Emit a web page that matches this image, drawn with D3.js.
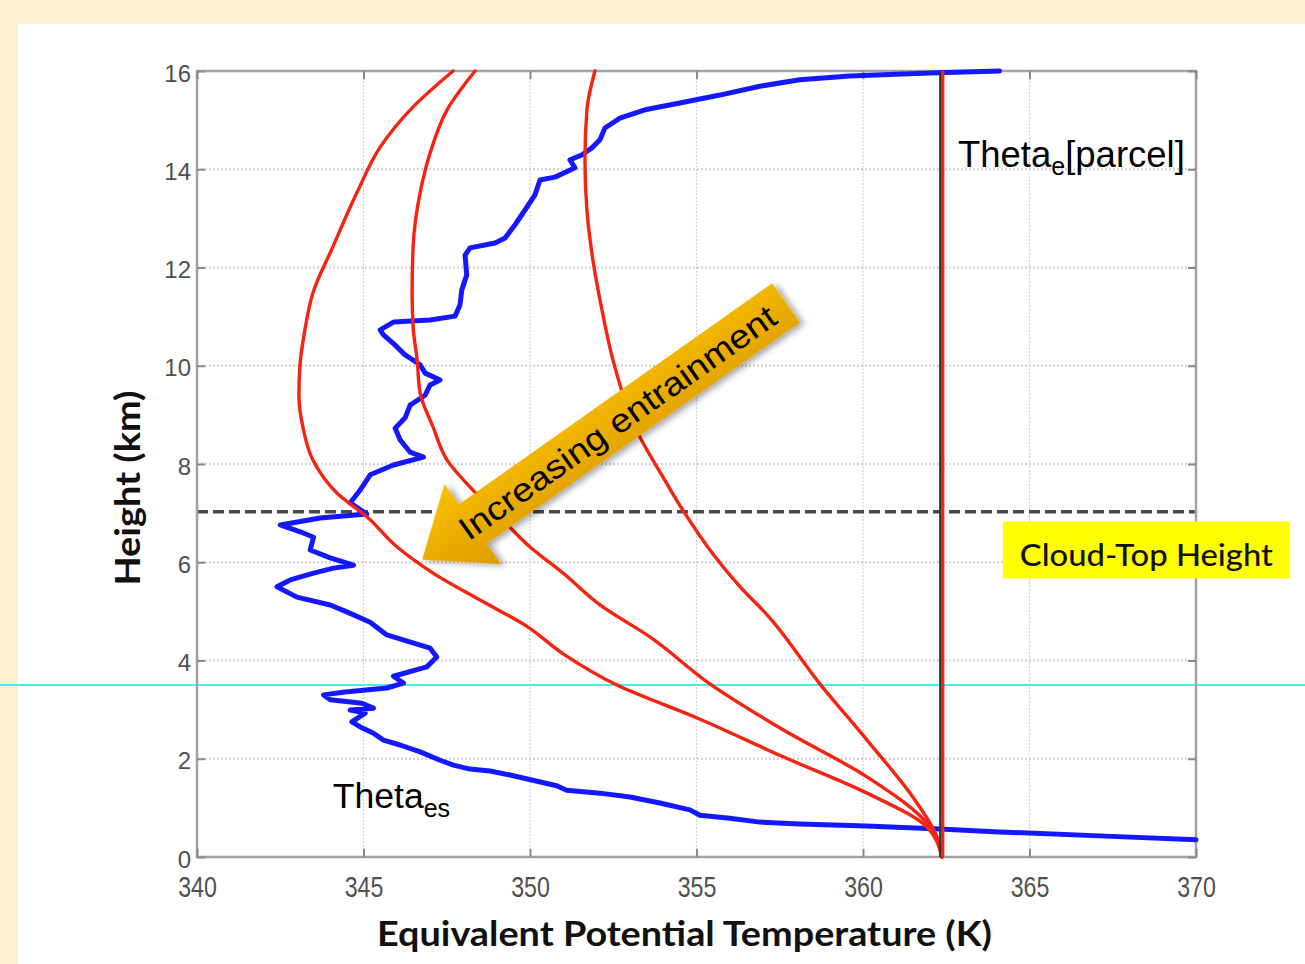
<!DOCTYPE html>
<html>
<head>
<meta charset="utf-8">
<script src="https://cdn.jsdelivr.net/npm/d3@7"></script>
<style>
  html, body { margin: 0; padding: 0; background: #fdf0d5; }
  svg { display: block; }
</style>
</head>
<body>
<script>
// Axis ticks
const tempTicks = [340, 345, 350, 355, 360, 365, 370];
const heightTicks = [0, 2, 4, 6, 8, 10, 12, 14, 16];

// Saturated equivalent potential temperature profile: [theta (K), height (km)]
const thetaEs = [
  [370.0,0.35],[367.1,0.43],[364.1,0.51],[362.3,0.57],[360.1,0.63],[358.1,0.67],[356.9,0.71],[356.0,0.79],
  [355.1,0.85],[354.8,0.96],[353.9,1.10],[353.0,1.22],[352.1,1.30],[351.1,1.36],[350.8,1.45],[349.4,1.67],
  [348.8,1.75],[348.2,1.79],[347.7,1.87],[347.3,1.97],[346.7,2.14],[346.1,2.28],[345.6,2.38],[345.3,2.52],
  [344.95,2.63],[344.65,2.75],[345.05,2.93],[344.6,2.99],[345.3,3.03],[344.95,3.13],[344.0,3.20],[343.8,3.30],
  [344.45,3.36],[345.7,3.44],[346.2,3.54],[345.9,3.68],[346.9,3.87],[347.2,4.07],[347.0,4.25],[345.7,4.52],
  [345.2,4.78],[344.5,4.99],[344.0,5.13],[343.0,5.29],[342.4,5.50],[342.8,5.64],[343.5,5.78],[344.1,5.88],
  [344.7,5.94],[344.0,6.09],[343.4,6.25],[343.5,6.51],[343.1,6.62],[342.5,6.76],[343.7,6.90],[345.1,6.98],
  [344.6,7.21],[344.9,7.47],[345.2,7.78],[345.9,7.98],[346.8,8.14],[346.4,8.24],[346.1,8.49],[345.95,8.73],
  [346.25,8.94],[346.4,9.20],[346.85,9.40],[347.0,9.61],[347.3,9.71],[346.85,9.85],[346.7,10.02],[346.25,10.22],
  [345.95,10.42],[345.6,10.63],[345.5,10.73],[345.9,10.89],[347.0,10.93],[347.75,11.01],[347.9,11.24],[347.95,11.54],
  [348.1,11.85],[348.05,12.25],[348.2,12.40],[348.95,12.50],[349.25,12.60],[349.55,12.87],[349.85,13.17],[350.15,13.48],
  [350.3,13.78],[350.75,13.84],[351.35,14.03],[351.2,14.19],[351.55,14.29],[351.85,14.43],[352.1,14.60],[352.25,14.84],
  [352.7,15.04],[353.45,15.21],[354.5,15.35],[355.7,15.51],[356.9,15.69],[358.1,15.82],[359.6,15.90],[362.0,15.96],
  [364.1,16.0]
];

// Parcel theta-e with no entrainment
const parcelTheta = 362.37;
const parcelUndilute = [[parcelTheta, 0], [parcelTheta, 16]];

// Entraining parcels: weak, moderate, strong mixing
const parcelWeakMix = [
  [362.37,0],[362.22,0.41],[361.62,1.10],[360.12,2.38],[358.71,3.52],[357.12,4.93],[356.31,5.50],[355.47,6.19],
  [354.59,7.06],[353.99,7.74],[353.30,8.55],[352.49,10.12],[352.16,11.14],[351.89,12.15],[351.71,13.17],
  [351.65,14.19],[351.71,15.21],[351.95,16.0]
];
const parcelModerateMix = [
  [362.37,0],[362.01,0.61],[360.12,1.63],[357.60,2.59],[355.41,3.52],[353.60,4.48],[352.10,5.13],[350.99,5.78],
  [350.00,6.31],[349.10,6.92],[348.20,7.53],[347.51,8.08],[347.09,8.75],[346.70,9.45],[346.61,10.12],
  [346.49,10.79],[346.46,11.48],[346.49,12.42],[346.70,13.52],[347.00,14.33],[347.51,15.21],[348.35,16.0]
];
const parcelStrongMix = [
  [362.37,0],[361.92,0.61],[360.12,1.30],[357.60,2.04],[355.02,2.83],[352.61,3.50],[351.05,4.11],[349.85,4.72],
  [348.50,5.23],[347.09,5.78],[346.01,6.31],[345.11,6.92],[344.20,7.41],[343.48,8.08],[343.18,8.75],
  [343.06,9.40],[343.09,9.99],[343.24,10.73],[343.48,11.48],[344.08,12.42],[344.80,13.52],[345.50,14.45],
  [346.49,15.27],[347.69,16.0]
];

// Reference levels (km)
const cloudTopHeight = 7.03;
const referenceLevel = 3.5;

// Annotation arrow: head and tail in data units [theta, height]
const arrowHead = [346.76, 6.05];
const arrowTail = [357.69, 11.28];

const W = 1305, H = 964;
const plot = { left: 197, right: 1196, top: 71, bottom: 857 };

const svg = d3.select("body").append("svg").attr("width", W).attr("height", H);

const defs = svg.append("defs");
const grad = defs.append("linearGradient").attr("id", "arrowFill")
  .attr("x1", 0).attr("y1", 0).attr("x2", 0).attr("y2", 1);
grad.append("stop").attr("offset", "0%").attr("stop-color", "#f9c000");
grad.append("stop").attr("offset", "100%").attr("stop-color", "#dd9a00");
const shadow = defs.append("filter").attr("id", "arrowShadow")
  .attr("x", "-20%").attr("y", "-20%").attr("width", "140%").attr("height", "140%");
shadow.append("feDropShadow").attr("dx", 3).attr("dy", 4).attr("stdDeviation", 3)
  .attr("flood-color", "#000").attr("flood-opacity", 0.35);

// Page background and white panel
svg.append("rect").attr("width", W).attr("height", H).attr("fill", "#fdf0d5");
svg.append("rect").attr("x", 18).attr("y", 24).attr("width", W - 18).attr("height", H - 24).attr("fill", "#ffffff");

const x = d3.scaleLinear().domain([340, 370]).range([plot.left, plot.right]);
const y = d3.scaleLinear().domain([0, 16]).range([plot.bottom, plot.top]);

// Grid
const grid = svg.append("g");
grid.selectAll(".vgrid").data(tempTicks.slice(1, -1)).join("line")
  .attr("x1", d => x(d)).attr("x2", d => x(d))
  .attr("y1", plot.top).attr("y2", plot.bottom)
  .attr("stroke", "#cfcfcf").attr("stroke-width", 1.2).attr("stroke-dasharray", "2,1.5");
grid.selectAll(".hgrid").data(heightTicks.slice(1, -1)).join("line")
  .attr("x1", plot.left).attr("x2", plot.right)
  .attr("y1", d => y(d)).attr("y2", d => y(d))
  .attr("stroke", "#d6d6d6").attr("stroke-width", 2.5).attr("stroke-dasharray", "2,2");

// Reference level across the page
svg.append("line")
  .attr("x1", 0).attr("x2", W)
  .attr("y1", y(referenceLevel)).attr("y2", y(referenceLevel))
  .attr("stroke", "#3ff0f4").attr("stroke-width", 2);

// Cloud-top height
svg.append("line")
  .attr("x1", plot.left).attr("x2", plot.right)
  .attr("y1", y(cloudTopHeight)).attr("y2", y(cloudTopHeight))
  .attr("stroke", "#4a4a4a").attr("stroke-width", 3.5).attr("stroke-dasharray", "11,5");

// Frame
svg.append("rect")
  .attr("x", plot.left).attr("y", plot.top)
  .attr("width", plot.right - plot.left).attr("height", plot.bottom - plot.top)
  .attr("fill", "none").attr("stroke", "#a2a2a2").attr("stroke-width", 2.5);

// Axes
const xAxis = svg.append("g").attr("transform", `translate(0,${plot.bottom})`)
  .call(d3.axisBottom(x).tickValues(tempTicks).tickFormat(d3.format("d")).tickSizeInner(-8).tickSizeOuter(0).tickPadding(19));
const xAxisTop = svg.append("g").attr("transform", `translate(0,${plot.top})`)
  .call(d3.axisTop(x).tickValues(tempTicks).tickFormat("").tickSizeInner(-8).tickSizeOuter(0));
const yAxis = svg.append("g").attr("transform", `translate(${plot.left},0)`)
  .call(d3.axisLeft(y).tickValues(heightTicks).tickFormat(d3.format("d")).tickSizeInner(-8).tickSizeOuter(0).tickPadding(6));
const yAxisRight = svg.append("g").attr("transform", `translate(${plot.right},0)`)
  .call(d3.axisRight(y).tickValues(heightTicks).tickFormat("").tickSizeInner(-8).tickSizeOuter(0));

[xAxis, xAxisTop, yAxis, yAxisRight].forEach(g => {
  g.select(".domain").remove();
  g.selectAll(".tick line").attr("stroke", "#8a8a8a").attr("stroke-width", 2);
});
// Narrow tick numerals along the temperature axis
xAxis.selectAll(".tick text")
  .attr("font-family", "'Liberation Sans', Arial, sans-serif")
  .attr("font-size", 29).attr("fill", "#505050")
  .attr("transform", "scale(0.8,1)");
yAxis.selectAll(".tick text")
  .attr("font-family", "'Liberation Sans', Arial, sans-serif")
  .attr("font-size", 24).attr("fill", "#505050").attr("dy", "0.42em");

// Axis titles
svg.append("text")
  .attr("x", (plot.left + plot.right) / 2 - 12).attr("y", 946)
  .attr("text-anchor", "middle")
  .attr("font-family", "Lato, 'Open Sans', sans-serif").attr("font-weight", 700)
  .attr("font-size", 34).attr("fill", "#111")
  .attr("textLength", 615).attr("lengthAdjust", "spacingAndGlyphs")
  .text("Equivalent Potential Temperature (K)");
svg.append("text")
  .attr("transform", `translate(140,${(plot.top + plot.bottom) / 2 + 24}) rotate(-90)`)
  .attr("text-anchor", "middle")
  .attr("font-family", "Lato, 'Open Sans', sans-serif").attr("font-weight", 700)
  .attr("font-size", 34).attr("fill", "#111")
  .attr("textLength", 195).attr("lengthAdjust", "spacingAndGlyphs")
  .text("Height (km)");

// Curves
const line = d3.line().x(d => x(d[0])).y(d => y(d[1]));
const smooth = d3.line().x(d => x(d[0])).y(d => y(d[1])).curve(d3.curveMonotoneY);
const curves = svg.append("g").attr("fill", "none").attr("stroke-linejoin", "round").attr("stroke-linecap", "round");

curves.append("path").datum(thetaEs).attr("d", line)
  .attr("stroke", "#1418ff").attr("stroke-width", 5);

[parcelWeakMix, parcelModerateMix, parcelStrongMix].forEach(c => {
  curves.append("path").datum(c).attr("d", smooth)
    .attr("stroke", "#f5230f").attr("stroke-width", 3.4);
});
curves.append("path").datum(parcelUndilute).attr("d", line)
  .attr("stroke", "#333", ).attr("stroke-width", 4).attr("stroke-linecap", "butt")
  .attr("transform", "translate(-0.8,0)");
curves.append("path").datum(parcelUndilute).attr("d", line)
  .attr("stroke", "#e82a14").attr("stroke-width", 3.4).attr("stroke-linecap", "butt")
  .attr("transform", "translate(0.8,0)");

// Curve labels
const labelFont = "'Liberation Sans', Arial, sans-serif";
const lblParcel = svg.append("text")
  .attr("x", x(362.85)).attr("y", y(14.04))
  .attr("font-family", labelFont).attr("font-size", 36.5).attr("fill", "#000");
lblParcel.append("tspan").text("Theta");
lblParcel.append("tspan").attr("font-size", 25).attr("dy", 8).text("e");
lblParcel.append("tspan").attr("dy", -8).text("[parcel]");

const lblEs = svg.append("text")
  .attr("x", x(344.08)).attr("y", y(1.0))
  .attr("font-family", labelFont).attr("font-size", 35.5).attr("fill", "#000");
lblEs.append("tspan").text("Theta");
lblEs.append("tspan").attr("font-size", 25).attr("dy", 9).text("es");

// Cloud-top label
const ctX = x(364.2), ctY = y(6.85);
svg.append("rect").attr("x", ctX).attr("y", ctY + 1)
  .attr("width", 287).attr("height", 57).attr("fill", "#ffff00");
svg.append("text")
  .attr("x", ctX + 143.5).attr("y", ctY + 46)
  .attr("text-anchor", "middle")
  .attr("font-family", "Lato, 'Open Sans', sans-serif").attr("font-size", 31).attr("font-weight", 500).attr("fill", "#111")
  .attr("textLength", 253).attr("lengthAdjust", "spacingAndGlyphs")
  .text("Cloud-Top Height");

// Entrainment arrow
const hx = x(arrowHead[0]), hy = y(arrowHead[1]);
const tx = x(arrowTail[0]), ty = y(arrowTail[1]);
const len = Math.hypot(tx - hx, ty - hy);
const ang = Math.atan2(ty - hy, tx - hx) * 180 / Math.PI;
const headLen = 62, headW = 98, shaftW = 48;
const arrowPts = [
  [0, 0], [headLen, -headW / 2], [headLen, -shaftW / 2], [len, -shaftW / 2],
  [len, shaftW / 2], [headLen, shaftW / 2], [headLen, headW / 2]
];
const arrow = svg.append("g").attr("transform", `translate(${hx},${hy}) rotate(${ang})`);
arrow.append("path")
  .attr("d", d3.line()(arrowPts) + "Z")
  .attr("fill", "url(#arrowFill)").attr("filter", "url(#arrowShadow)");
arrow.append("text")
  .attr("x", len / 2 + 16).attr("y", 0).attr("dy", "0.36em")
  .attr("text-anchor", "middle")
  .attr("font-family", labelFont).attr("font-size", 33).attr("fill", "#000")
  .attr("textLength", 380).attr("lengthAdjust", "spacingAndGlyphs")
  .text("Increasing entrainment");
</script>
</body>
</html>
